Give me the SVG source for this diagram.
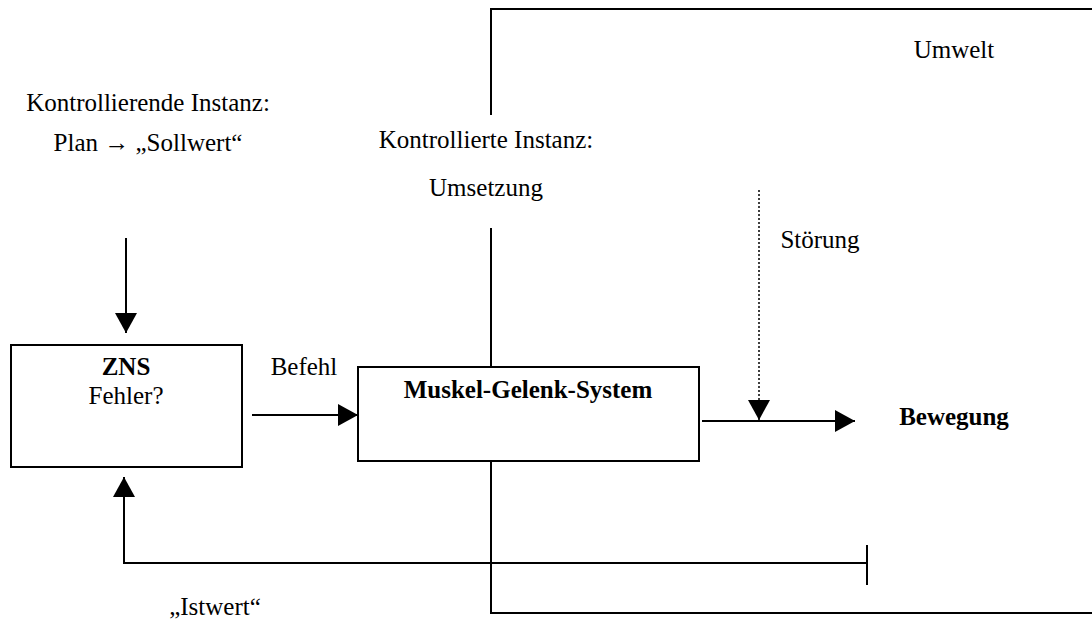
<svg xmlns="http://www.w3.org/2000/svg" width="1092" height="619" viewBox="0 0 1092 619">
  <style>
    text { font-family: "Liberation Serif", "Times New Roman", serif; font-size: 25px; fill: #000; }
    .b { font-weight: bold; }
    .ln { fill: none; stroke: #000; stroke-width: 2; }
    .box { fill: #fff; stroke: #000; stroke-width: 2; }
    .dot { fill: none; stroke: #000; stroke-width: 1.5; stroke-dasharray: 2 2; }
  </style>
  <defs>
    <marker id="ah" markerUnits="userSpaceOnUse" markerWidth="21" markerHeight="22" refX="20" refY="11" orient="auto">
      <path d="M0,0 L20,11 L0,22 z" fill="#000"/>
    </marker>
  </defs>
  <rect width="1092" height="619" fill="#fff"/>

  <g id="umwelt">
    <path class="ln" d="M491,115 L491,9 L1092,9"/>
    <path class="ln" d="M491,228 L491,367"/>
    <path class="ln" d="M491,461 L491,613 L1092,613"/>
    <text x="954" y="58" text-anchor="middle">Umwelt</text>
  </g>

  <g id="kontrollierende-instanz">
    <text x="148" y="111" text-anchor="middle">Kontrollierende Instanz:</text>
    <text x="148" y="151" text-anchor="middle">Plan → „Sollwert“</text>
  </g>

  <g id="kontrollierte-instanz">
    <text x="486" y="148" text-anchor="middle">Kontrollierte Instanz:</text>
    <text x="486" y="196" text-anchor="middle">Umsetzung</text>
  </g>

  <g id="zns">
    <rect class="box" x="11" y="345" width="231" height="122"/>
    <text class="b" x="126" y="375" text-anchor="middle">ZNS</text>
    <text x="126" y="404" text-anchor="middle">Fehler?</text>
  </g>

  <g id="muskel-gelenk-system">
    <rect class="box" x="358" y="367" width="341" height="94"/>
    <text class="b" x="528" y="398" text-anchor="middle">Muskel-Gelenk-System</text>
  </g>

  <g id="bewegung">
    <text class="b" x="954" y="425" text-anchor="middle">Bewegung</text>
  </g>

  <g id="connectors">
    <line class="ln" x1="126" y1="238" x2="126" y2="333" marker-end="url(#ah)"/>
    <line class="ln" x1="252" y1="415" x2="358" y2="415" marker-end="url(#ah)"/>
    <line class="ln" x1="702" y1="421" x2="855" y2="421" marker-end="url(#ah)"/>
    <line class="dot" x1="759" y1="190" x2="759" y2="420" marker-end="url(#ah)"/>
    <path class="ln" d="M867,563 L124,563 L124,477" marker-end="url(#ah)"/>
    <line class="ln" x1="867" y1="545" x2="867" y2="585"/>
  </g>

  <g id="labels">
    <text x="304" y="375" text-anchor="middle">Befehl</text>
    <text x="820" y="248" text-anchor="middle">Störung</text>
    <text x="215" y="615" text-anchor="middle">„Istwert“</text>
  </g>
</svg>
